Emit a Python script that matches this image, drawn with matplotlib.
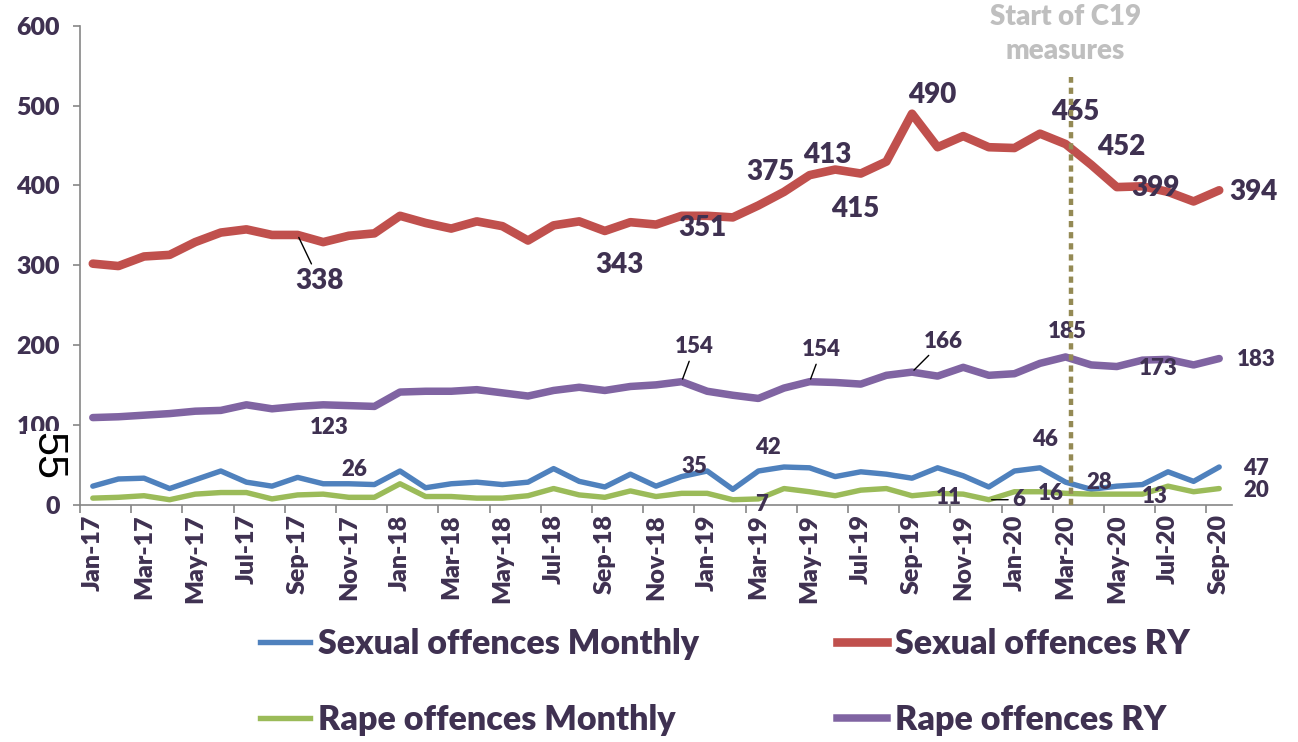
import numpy as np
import matplotlib.pyplot as plt
from matplotlib.lines import Line2D

plt.rcParams['font.family'] = ['Lato', 'DejaVu Sans']

# Monthly series, Jan-17 .. Sep-20
n_months = 45
tick_labels = ['Jan-17', 'Mar-17', 'May-17', 'Jul-17', 'Sep-17', 'Nov-17',
               'Jan-18', 'Mar-18', 'May-18', 'Jul-18', 'Sep-18', 'Nov-18',
               'Jan-19', 'Mar-19', 'May-19', 'Jul-19', 'Sep-19', 'Nov-19',
               'Jan-20', 'Mar-20', 'May-20', 'Jul-20', 'Sep-20']

sexual_monthly = [23, 32, 33, 20, 31, 42, 28, 23, 34, 26, 26, 25, 42, 21, 26,
                  28, 25, 28, 45, 29, 22, 38, 23, 35, 42, 19, 42, 47, 46, 35,
                  41, 38, 33, 46, 36, 22, 42, 46, 28, 19, 23, 25, 41, 29, 47]
sexual_ry = [302, 299, 311, 313, 329, 341, 345, 338, 338, 329, 337, 340, 362,
             353, 346, 355, 349, 331, 350, 355, 343, 354, 351, 362, 362, 360,
             375, 392, 413, 420, 415, 430, 490, 448, 462, 448, 447, 465, 452,
             426, 398, 399, 392, 380, 394]
rape_monthly = [8, 9, 11, 6, 13, 15, 15, 7, 12, 13, 9, 9, 26, 10, 10, 8, 8,
                11, 20, 12, 9, 17, 10, 14, 14, 6, 7, 20, 16, 11, 18, 20, 11,
                14, 13, 6, 16, 16, 14, 13, 13, 13, 23, 16, 20]
rape_ry = [109, 110, 112, 114, 117, 118, 125, 120, 123, 125, 124, 123, 141,
           142, 142, 144, 140, 136, 143, 147, 143, 148, 150, 154, 142, 137,
           133, 146, 154, 153, 151, 162, 166, 161, 172, 162, 164, 177, 185,
           175, 173, 181, 182, 175, 183]

c19_start = 38.2  # just after Mar-20

text_col = '#3F3151'
wt = 'heavy'
colors = {'sm': '#4F81BD', 'sry': '#C0504D', 'rm': '#9BBB59', 'rry': '#8064A2'}

fig = plt.figure(figsize=(12.98, 7.42), dpi=100)
ax = fig.add_axes([80/1298, 1 - 504.5/742, 1152/1298, 478.5/742])
x = np.arange(n_months)

kw = dict(solid_capstyle='round', solid_joinstyle='round')
ax.plot(x, sexual_monthly, color=colors['sm'], lw=3.9, **kw)
ax.plot(x, sexual_ry, color=colors['sry'], lw=6.2, **kw)
ax.plot(x, rape_monthly, color=colors['rm'], lw=3.9, **kw)
ax.plot(x, rape_ry, color=colors['rry'], lw=5.4, **kw)

ax.set_xlim(-0.5, n_months - 0.5)
ax.set_ylim(0, 600)

for s in ['top', 'right']:
    ax.spines[s].set_visible(False)
for s in ['left', 'bottom']:
    ax.spines[s].set_color('#868686')
    ax.spines[s].set_linewidth(1.2)

ax.set_yticks(range(0, 601, 100))
ax.tick_params(axis='y', length=5.4, width=1.2, color='#868686', pad=9,
               labelsize=18, labelcolor=text_col)
for t in ax.get_yticklabels():
    t.set_fontweight(wt)

ax.set_xticks(np.arange(-0.5, n_months - 1, 2))
ax.set_xticklabels([])
ax.set_xticks(np.arange(0, n_months, 2), minor=True)
ax.set_xticklabels(tick_labels, minor=True, rotation=90, fontsize=18,
                   fontweight=wt, color=text_col)
ax.tick_params(axis='x', which='major', length=6, width=1.2, color='#868686')
ax.tick_params(axis='x', which='minor', length=0, pad=7)

# start of C19 measures
ax.plot([c19_start, c19_start], [0, 536], color='#948A54', lw=3.2,
        linestyle=(0, (1.4, 1.1)), zorder=10, clip_on=False)
ax.text(c19_start - 0.2, 590, 'Start of C19\nmeasures', ha='center', va='center',
        fontsize=20, fontweight=wt, color='#BFBFBF', linespacing=1.38)


def label(series, i, dx, dy, size, leader=False):
    v = series[i]
    ap = dict(arrowstyle='-', color='black', lw=1, shrinkA=1, shrinkB=2) if leader else None
    ax.annotate(str(v), (i, v), xytext=(dx, dy), textcoords='offset pixels',
                ha='center', va='center', fontsize=size, fontweight=wt,
                color=text_col, arrowprops=ap, zorder=6, annotation_clip=False)


# Sexual offences RY
label(sexual_ry, 8, 22, -46, 20, leader=True)
label(sexual_ry, 20, 15, -34, 20)
label(sexual_ry, 22, 46, -3, 20)
label(sexual_ry, 26, 12, 33, 20)
label(sexual_ry, 28, 18, 20, 20)
label(sexual_ry, 30, -6, -35, 20)
label(sexual_ry, 32, 20, 19, 20)
label(sexual_ry, 37, 35, 22, 20)
label(sexual_ry, 38, 56, -3, 20)
label(sexual_ry, 41, 13, -2, 20)
label(sexual_ry, 44, 34, -2, 20)

# Rape offences RY
label(rape_ry, 8, 32, -21, 16)
label(rape_ry, 23, 13, 35, 16, leader=True)
label(rape_ry, 28, 12, 32, 16, leader=True)
label(rape_ry, 32, 31, 31, 16, leader=True)
label(rape_ry, 38, 2, 25, 16)
label(rape_ry, 40, 41, -2, 16)
label(rape_ry, 44, 37, -1, 16)

# Sexual offences Monthly
label(sexual_monthly, 10, 6, 14, 16)
label(sexual_monthly, 23, 13, 10, 16)
label(sexual_monthly, 26, 10, 24, 16)
label(sexual_monthly, 37, 5, 28, 16)
label(sexual_monthly, 38, 34, 0, 16)
label(sexual_monthly, 44, 37, -1, 16)

# Rape offences Monthly
label(rape_monthly, 26, 3, -6, 16)
label(rape_monthly, 32, 37, -2, 16)
label(rape_monthly, 35, 30, 0, 16, leader=True)
label(rape_monthly, 37, 11, -2, 16)
label(rape_monthly, 41, 12, -2, 16)
label(rape_monthly, 44, 37, -2, 16)

# stray page number
fig.text(47/1298, 1 - 456/742, '55', rotation=-90, ha='center', va='center',
         fontsize=31, family='Liberation Sans', color='black',
         bbox=dict(facecolor='white', edgecolor='none', pad=1), zorder=5)

handles = [Line2D([], [], color=colors['sm'], lw=3.9),
           Line2D([], [], color=colors['rm'], lw=3.9),
           Line2D([], [], color=colors['sry'], lw=6.2),
           Line2D([], [], color=colors['rry'], lw=5.4)]
names = ['Sexual offences Monthly', 'Rape offences Monthly',
         'Sexual offences RY', 'Rape offences RY']
leg = fig.legend(handles, names, ncol=2, loc='center left',
                 bbox_to_anchor=(260/1298, 1 - 682/742), frameon=False,
                 fontsize=24.5, handlelength=1.47, handletextpad=0.23,
                 columnspacing=4.05, labelspacing=1.28, borderpad=0,
                 borderaxespad=0)
for t in leg.get_texts():
    t.set_fontweight(wt)
    t.set_color(text_col)

fig.savefig('out.png', dpi=100)
